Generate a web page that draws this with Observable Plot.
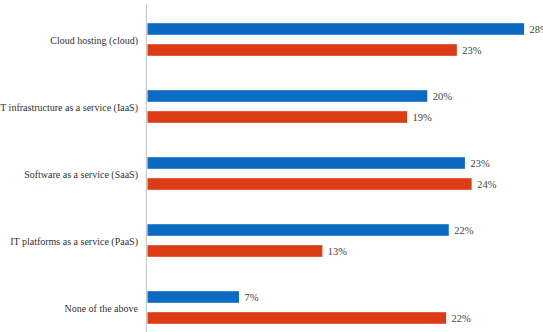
<!DOCTYPE html>
<html>
<head>
<meta charset="utf-8">
<script src="https://cdn.jsdelivr.net/npm/d3@7"></script>
<script src="https://cdn.jsdelivr.net/npm/@observablehq/plot@0.6"></script>
<style>
  html, body { margin: 0; padding: 0; background: #fff; font-family: "Times New Roman", "Liberation Serif", serif; }
  #chart svg { display: block; }
</style>
</head>
<body>
<div id="chart"></div>
<script>
const categories = [
  "Cloud hosting (cloud)",
  "IT infrastructure as a service (IaaS)",
  "Software as a service (SaaS)",
  "IT platforms as a service (PaaS)",
  "None of the above"
];
const blueValues = [28, 20.8, 23.6, 22.4, 6.8];
const redValues = [23, 19.3, 24.1, 13, 22.2];
const blueLabels = ["28%", "20%", "23%", "22%", "7%"];
const redLabels = ["23%", "19%", "24%", "13%", "22%"];

const blueData = categories.map((c, i) => ({cat: c, v: blueValues[i], label: blueLabels[i]}));
const redData = categories.map((c, i) => ({cat: c, v: redValues[i], label: redLabels[i]}));

const font = "Times New Roman, Liberation Serif, Tinos, DejaVu Serif, serif";

const chart = Plot.plot({
  width: 543,
  height: 332,
  marginTop: 4,
  marginBottom: 0,
  marginLeft: 0,
  marginRight: 0,
  style: {fontFamily: font},
  x: {domain: [0, 30], range: [147.5, 551], axis: null},
  y: {domain: categories, range: [4.5, 343], padding: 0, axis: null},
  marks: [
    Plot.ruleX([0], {stroke: "#c8c8c8", strokeWidth: 1.2, dx: -1.5}),
    Plot.barX(blueData, {x: "v", y: "cat", fill: "#0b6bc3", insetTop: 17.2, insetBottom: 38.2}),
    Plot.barX(redData, {x: "v", y: "cat", fill: "#dc3b14", insetTop: 38.2, insetBottom: 17.2}),
    Plot.text(blueData, {x: "v", y: "cat", text: "label", dx: 5, dy: -10.5, textAnchor: "start", fill: "#444", fontSize: 10.5, fontFamily: font}),
    Plot.text(redData, {x: "v", y: "cat", text: "label", dx: 5, dy: 10.5, textAnchor: "start", fill: "#444", fontSize: 10.5, fontFamily: font}),
    Plot.text(categories, {x: () => 0, y: d => d, text: d => d, dx: -10, dy: 0.5, textAnchor: "end", fill: "#333", fontSize: 10, fontFamily: font})
  ]
});
chart.setAttribute("font-family", font);
document.getElementById("chart").appendChild(chart);
</script>
</body>
</html>
